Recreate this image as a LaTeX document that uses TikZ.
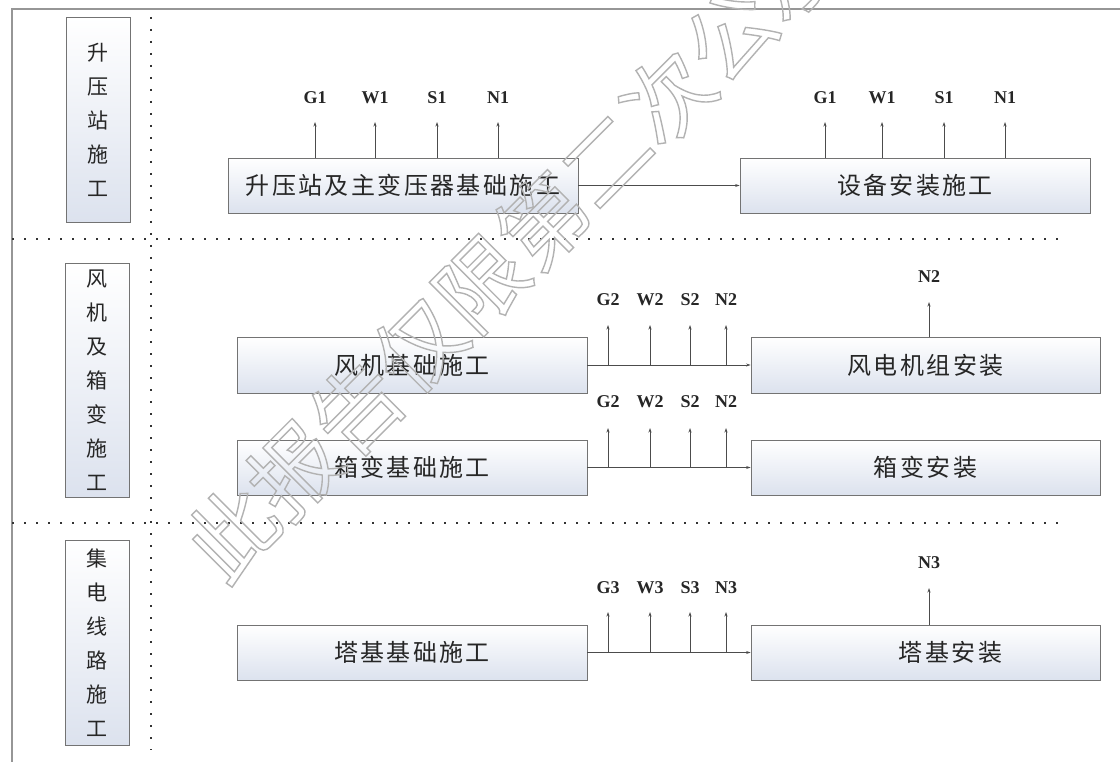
\documentclass[tikz,border=0pt]{standalone}
\usepackage{fontspec}
\setmainfont{Liberation Serif}
\newfontfamily\cjk{Noto Sans CJK SC}
\newfontfamily\cjkbox{Noto Sans CJK SC}[LetterSpace=10]
\usetikzlibrary{arrows.meta}
\definecolor{boxbot}{RGB}{220,226,238}
\definecolor{framegray}{RGB}{150,150,150}
\begin{document}
\begin{tikzpicture}[x=1pt,y=-1pt,
  box/.style={draw=black!55, line width=0.9pt, top color=white, bottom color=boxbot,
    inner sep=0pt, minimum width=350pt, minimum height=55pt,
    font=\cjkbox\fontsize{24}{28}\selectfont, text=black!85},
  sidebox/.style={box, minimum width=64pt, font=\cjk\fontsize{21}{34}\selectfont, align=center},
  lbl/.style={font=\bfseries\fontsize{18}{20}\selectfont, inner sep=0pt, text=black!85},
  arr/.style={draw=black!70, line width=0.7pt, -{Stealth[length=4.5pt,width=3pt]}},
  sep/.style={draw=black!80, line width=2.2pt, dash pattern=on 2pt off 10pt},
  frameline/.style={draw=framegray, line width=1.2pt}]
\useasboundingbox[fill=white] (0,0) rectangle (1120,762);

% frame
\coordinate (fTL) at (12,9);
\coordinate (fTR) at (1120,9);
\coordinate (fBL) at (12,762);
\draw[frameline] (fBL) -- (fTL) -- (fTR);

% separators
\coordinate (vs1) at (151,17);
\coordinate (vs2) at (151,750);
\coordinate (hs1a) at (12,239);
\coordinate (hs1b) at (1060,239);
\coordinate (hs2a) at (12,523);
\coordinate (hs2b) at (1060,523);
\draw[sep] (vs1) -- (vs2);
\draw[sep] (hs1a) -- (hs1b);
\draw[sep] (hs2a) -- (hs2b);

% side boxes
\node[sidebox, minimum height=205pt] (L1) at (98,119.5) {升\\压\\站\\施\\工};
\node[sidebox, minimum height=234pt] (L2) at (97,380) {风\\机\\及\\箱\\变\\施\\工};
\node[sidebox, minimum height=205pt] (L3) at (97,642.5) {集\\电\\线\\路\\施\\工};

% section 1
\node[box] (B1) at (403,185.5) {升压站及主变压器基础施工};
\node[box] (B2) at (915,185.5) {设备安装施工};
\draw[arr] (B1.east) -- (B2.west);
\node[lbl] (g1a) at (315,98) {G1};
\node[lbl] (w1a) at (375,98) {W1};
\node[lbl] (s1a) at (437,98) {S1};
\node[lbl] (n1a) at (498,98) {N1};
\node[lbl] (g1b) at (825,98) {G1};
\node[lbl] (w1b) at (882,98) {W1};
\node[lbl] (s1b) at (944,98) {S1};
\node[lbl] (n1b) at (1005,98) {N1};
\foreach \n in {g1a,w1a,s1a,n1a}{\draw[arr] (B1.north -| \n) -- (\n |- 0,122);}
\foreach \n in {g1b,w1b,s1b,n1b}{\draw[arr] (B2.north -| \n) -- (\n |- 0,122);}

% section 2
\node[box, minimum height=56pt] (C1) at (412,365) {风机基础施工};
\node[box, minimum height=56pt, minimum width=349pt] (C2) at (925.5,365) {风电机组安装};
\draw[arr] (C1.east) -- (C2.west);
\node[lbl] (g2a) at (608,300) {G2};
\node[lbl] (w2a) at (650,300) {W2};
\node[lbl] (s2a) at (690,300) {S2};
\node[lbl] (n2a) at (726,300) {N2};
\foreach \n in {g2a,w2a,s2a,n2a}{\draw[arr] (\n |- C1.east) -- (\n |- 0,325);}
\node[lbl] (n2c) at (929,277) {N2};
\draw[arr] (C2.north -| n2c) -- (n2c |- 0,302);

\node[box] (D1) at (412,467.5) {箱变基础施工};
\node[box, minimum width=349pt] (D2) at (925.5,467.5) {箱变安装};
\draw[arr] (D1.east) -- (D2.west);
\node[lbl] (g2b) at (608,402) {G2};
\node[lbl] (w2b) at (650,402) {W2};
\node[lbl] (s2b) at (690,402) {S2};
\node[lbl] (n2b) at (726,402) {N2};
\foreach \n in {g2b,w2b,s2b,n2b}{\draw[arr] (\n |- D1.east) -- (\n |- 0,428);}

% section 3
\node[box] (E1) at (412,652.5) {塔基基础施工};
\node[box, minimum width=349pt] (E2) at (925.5,652.5) {\hspace*{50pt}塔基安装};
\draw[arr] (E1.east) -- (E2.west);
\node[lbl] (g3a) at (608,588) {G3};
\node[lbl] (w3a) at (650,588) {W3};
\node[lbl] (s3a) at (690,588) {S3};
\node[lbl] (n3a) at (726,588) {N3};
\foreach \n in {g3a,w3a,s3a,n3a}{\draw[arr] (\n |- E1.east) -- (\n |- 0,612);}
\node[lbl] (n3c) at (929,563) {N3};
\draw[arr] (E2.north -| n3c) -- (n3c |- 0,588);

% watermark
\node[rotate=45, text=black!30, font=\cjk\fontsize{88}{88}\selectfont, inner sep=0pt] (wm) at (512,252)
  {\special{pdf:literal direct 1 Tr 1.4 w}此报告仅限第二次公示\special{pdf:literal direct 0 Tr 1 w}};
\end{tikzpicture}
\end{document}
